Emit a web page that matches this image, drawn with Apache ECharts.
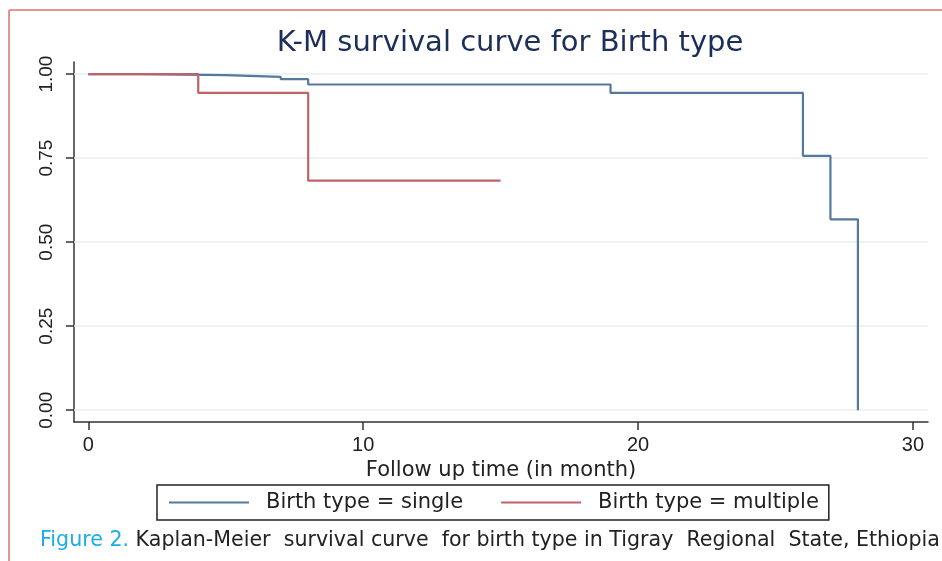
<!DOCTYPE html>
<html>
<head>
<meta charset="utf-8">
<script src="https://cdn.jsdelivr.net/npm/echarts@6/dist/echarts.min.js"></script>
<style>
  html, body { margin: 0; padding: 0; background: #fff; }
  #main { width: 942px; height: 561px; }
</style>
</head>
<body>
<div id="main"></div>
<script>
// K-M estimates: [month, survival after the drop]
var singleData = [[0, 1], [2, 0.997], [5, 0.992], [7, 0.985], [8, 0.969], [19, 0.944], [26, 0.757], [27, 0.568], [28, 0]];
var multipleData = [[0, 1], [4, 0.944], [8, 0.683], [15, 0.683]];
var xTicks = [0, 10, 20, 30];
var yTicks = [0, 0.25, 0.5, 0.75, 1];
var seriesNames = ['Birth type = single', 'Birth type = multiple'];

var wideFont = 'DejaVu Sans, Verdana, sans-serif';
var tickFont = 'Liberation Sans, Arial, sans-serif';

var dom = document.getElementById('main');
var chart = echarts.init(dom);

var option = {
    backgroundColor: '#fff',
    animation: false,
    title: {
        text: 'K-M survival curve for Birth type',
        left: 505,
        textAlign: 'center',
        top: 24,
        textStyle: {
            fontFamily: wideFont,
            fontWeight: 'normal',
            fontSize: 29,
            color: '#1c2f58'
        }
    },
    grid: {
        left: 74,
        right: 14,
        top: 62,
        bottom: 139
    },
    legend: {
        data: seriesNames,
        left: 157,
        top: 485,
        padding: [7, 10, 7, 12],
        borderColor: '#222',
        borderWidth: 1.5,
        icon: 'rect',
        itemWidth: 80,
        itemHeight: 2,
        itemGap: 38,
        textStyle: {
            fontFamily: wideFont,
            fontSize: 21,
            color: '#222',
            padding: [0, 0, 0, 12]
        }
    },
    xAxis: {
        type: 'value',
        min: -0.52,
        max: 30.55,
        name: 'Follow up time (in month)',
        nameLocation: 'middle',
        nameGap: 32,
        nameTextStyle: {
            fontFamily: wideFont,
            fontSize: 21,
            color: '#222'
        },
        axisLine: { show: true, onZero: false, lineStyle: { color: '#333', width: 1.5 } },
        axisTick: { show: true, length: 8, customValues: xTicks, lineStyle: { color: '#333', width: 1.5 } },
        axisLabel: {
            customValues: xTicks,
            margin: 13,
            fontFamily: tickFont,
            fontSize: 20,
            color: '#222'
        },
        splitLine: { show: false }
    },
    yAxis: {
        type: 'value',
        min: -0.035,
        max: 1.036,
        axisLine: { show: true, onZero: false, lineStyle: { color: '#333', width: 1.5 } },
        axisTick: { show: true, length: 8, customValues: yTicks, lineStyle: { color: '#333', width: 1.5 } },
        axisLabel: {
            customValues: yTicks,
            rotate: 90,
            margin: 18,
            fontFamily: tickFont,
            fontSize: 19,
            color: '#222',
            formatter: function (v) { return v.toFixed(2); }
        },
        splitLine: { show: false }
    },
    series: [
        {
            name: seriesNames[0],
            type: 'line',
            step: 'end',
            symbol: 'none',
            data: singleData,
            color: '#56789d',
            lineStyle: { width: 2.2, color: '#56789d' },
            z: 3,
            markLine: {
                silent: true,
                symbol: 'none',
                label: { show: false },
                lineStyle: { type: 'solid', color: '#e6eff0', width: 1.5 },
                data: yTicks.map(function (v) { return { yAxis: v }; }),
                z: 1
            }
        },
        {
            name: seriesNames[1],
            type: 'line',
            step: 'end',
            symbol: 'none',
            data: multipleData,
            color: '#bf6369',
            lineStyle: { width: 2.2, color: '#bf6369' },
            z: 4
        }
    ],
    graphic: [
        // outer frame of the figure
        { type: 'line', shape: { x1: 9, y1: 10, x2: 942, y2: 10 }, style: { stroke: '#e29597', lineWidth: 2 } },
        { type: 'line', shape: { x1: 9, y1: 10, x2: 9, y2: 561 }, style: { stroke: '#e29597', lineWidth: 2 } },
        {
            type: 'text',
            left: 40,
            top: 530,
            style: {
                text: '{a|Figure 2.} Kaplan-Meier  survival curve  for birth type in Tigray  Regional  State, Ethiopia',
                fontFamily: wideFont,
                fontSize: 20.6,
                fill: '#222',
                rich: {
                    a: { fontFamily: wideFont, fontSize: 20.6, fill: '#1aaee6' }
                }
            }
        }
    ]
};

chart.setOption(option);
</script>
</body>
</html>
